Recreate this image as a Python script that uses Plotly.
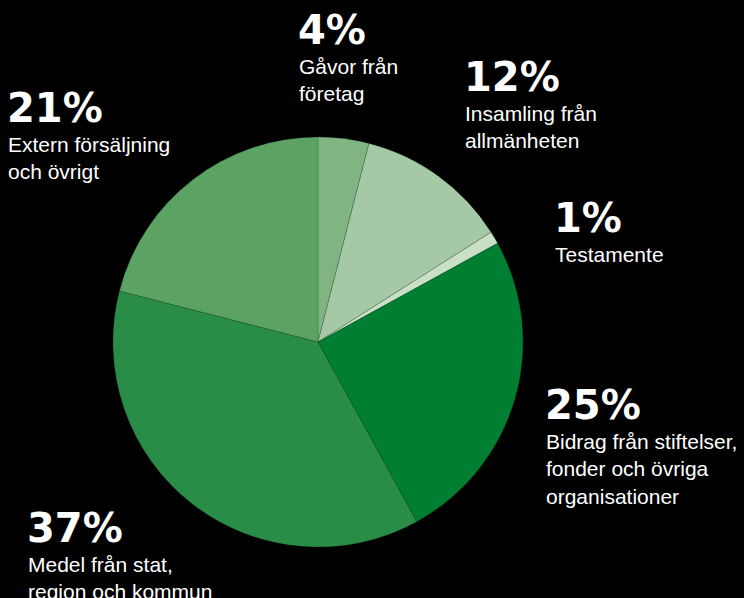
import plotly.graph_objects as go

W, H = 744, 598

# ---- data ----
categories = [
    "Gåvor från<br>företag",
    "Insamling från<br>allmänheten",
    "Testamente",
    "Bidrag från stiftelser,<br>fonder och övriga<br>organisationer",
    "Medel från stat,<br>region och kommun",
    "Extern försäljning<br>och övrigt",
]
values = [4, 12, 1, 25, 37, 21]
colors = ["#80b583", "#a6c9a5", "#c9e0c6", "#007f33", "#2a8d47", "#5ca263"]

# label anchor positions (pixels: left x, cap-top y of percentage)
label_pos = [(299, 15), (465, 62), (555, 203), (546, 390), (28, 513), (8, 93)]

cx, cy, r = 318, 342, 205

fig = go.Figure(go.Pie(
    labels=[c.replace("<br>", " ") for c in categories],
    values=values,
    marker=dict(colors=colors, line=dict(color="rgba(0,60,20,0.35)", width=0.6)),
    sort=False,
    direction="clockwise",
    rotation=0,
    textinfo="none",
    hoverinfo="skip",
    showlegend=False,
    domain=dict(x=[(cx - r) / W, (cx + r) / W], y=[(H - cy - r) / H, (H - cy + r) / H]),
))

PCT_SIZE = 40
TXT_SIZE = 21
annotations = []
for cat, v, (px, py) in zip(categories, values, label_pos):
    annotations.append(dict(
        x=(px - 3) / W, y=1 - (py + 2 - 0.30 * PCT_SIZE) / H, xref="paper", yref="paper",
        xanchor="left", yanchor="top", showarrow=False, align="left",
        text=f"<b>{v}%</b>",
        font=dict(family="DejaVu Sans, sans-serif", size=PCT_SIZE, color="white"),
    ))
    annotations.append(dict(
        x=(px - 2) / W, y=1 - (py + 45 - 0.32 * TXT_SIZE) / H, xref="paper", yref="paper",
        xanchor="left", yanchor="top", showarrow=False, align="left",
        text=cat,
        font=dict(family="Liberation Sans, Arial, sans-serif", size=TXT_SIZE, color="white"),
    ))

fig.update_layout(
    width=W, height=H,
    margin=dict(l=0, r=0, t=0, b=0),
    paper_bgcolor="black", plot_bgcolor="black",
    annotations=annotations,
)

fig.write_html(
    "out.html",
    config={"displayModeBar": False},
    post_script="document.body.style.margin='0';document.body.style.background='black';",
)
